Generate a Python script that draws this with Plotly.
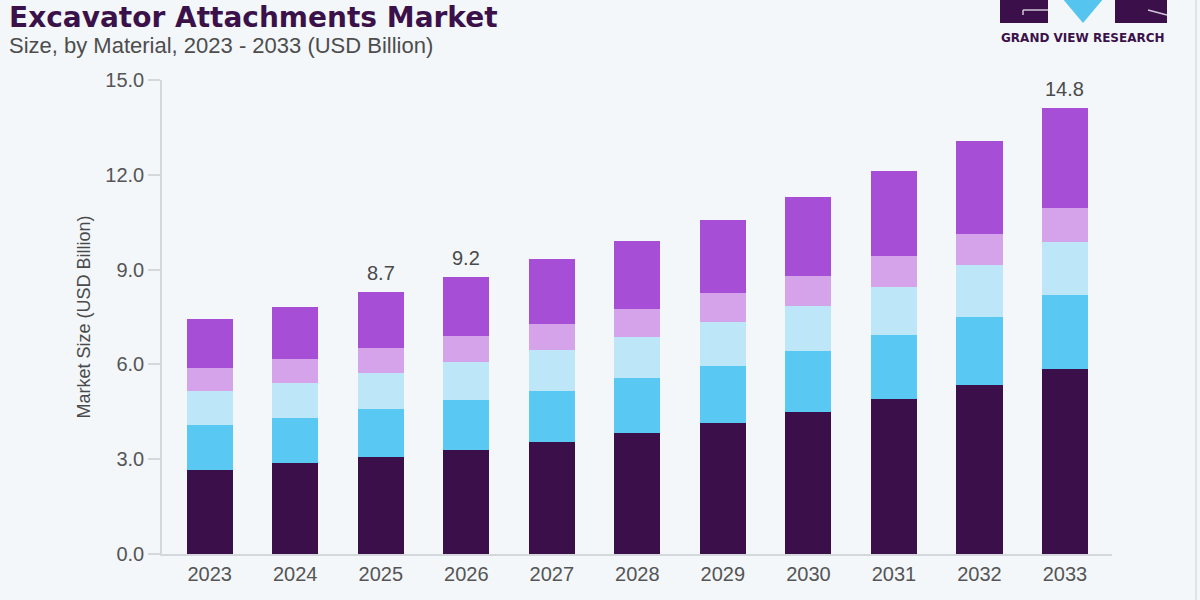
import plotly.graph_objects as go

# ---------------- data ----------------
years = ["2023", "2024", "2025", "2026", "2027", "2028", "2029", "2030", "2031", "2032", "2033"]
seg_dark = [2.66, 2.87, 3.06, 3.29, 3.55, 3.84, 4.14, 4.48, 4.90, 5.35, 5.84]
seg_blue = [1.41, 1.42, 1.52, 1.58, 1.61, 1.72, 1.82, 1.94, 2.03, 2.16, 2.35]
seg_lightblue = [1.09, 1.11, 1.16, 1.21, 1.29, 1.32, 1.39, 1.42, 1.53, 1.64, 1.69]
seg_lavender = [0.74, 0.77, 0.79, 0.81, 0.82, 0.87, 0.90, 0.95, 0.97, 0.98, 1.06]
seg_purple = [1.53, 1.66, 1.75, 1.88, 2.05, 2.16, 2.32, 2.50, 2.70, 2.95, 3.18]
series_names = ["Material 1", "Material 2", "Material 3", "Material 4", "Material 5"]
bar_labels = {"2025": "8.7", "2026": "9.2", "2033": "14.8"}
y_ticks = [0, 3, 6, 9, 12, 15]

title_text = "Excavator Attachments Market"
subtitle_text = "Size, by Material, 2023 - 2033 (USD Billion)"
yaxis_title = "Market Size (USD Billion)"
brand_text = "GRAND VIEW RESEARCH"

# ---------------- styling ----------------
colors = ["#3B0F4A", "#59C8F2", "#BDE7F8", "#D4A3EA", "#A64FD6"]
bg = "#F3F7FA"
W, H = 1200, 600
ML, MR, MT, MB = 162, 88, 80, 46
PW, PH = W - ML - MR, H - MT - MB


def px(x):
    return (x - ML) / PW


def py(y):
    return (H - MB - y) / PH


fig = go.Figure()
series = [seg_dark, seg_blue, seg_lightblue, seg_lavender, seg_purple]
for name, vals, col in zip(series_names, series, colors):
    fig.add_trace(go.Bar(
        x=years, y=vals, name=name, width=0.54,
        marker=dict(color=col, line=dict(width=0)),
    ))

totals = [sum(v) for v in zip(*series)]
annotations = []
for i, (yr, tot) in enumerate(zip(years, totals)):
    if yr in bar_labels:
        annotations.append(dict(
            x=i, y=tot, xref="x", yref="y", text=bar_labels[yr], showarrow=False,
            yanchor="bottom", yshift=6,
            font=dict(family="Liberation Sans, Arial", size=20, color="#4a4a4a"),
        ))

annotations += [
    dict(x=px(8), y=py(0), xref="paper", yref="paper", xanchor="left", yanchor="top",
         text="<b>" + title_text + "</b>", showarrow=False, borderpad=0,
         font=dict(family="DejaVu Sans", size=28, color="#3B1149")),
    dict(x=px(8), y=py(46), xref="paper", yref="paper", xanchor="left", yanchor="middle",
         text=subtitle_text, showarrow=False, borderpad=0,
         font=dict(family="Liberation Sans, Arial", size=22, color="#4d4d4d")),
    dict(x=px(1083), y=py(37.5), xref="paper", yref="paper", xanchor="center", yanchor="middle",
         text="<b>" + brand_text + "</b>", showarrow=False,
         font=dict(family="DejaVu Sans", size=12, color="#3B1149")),
]

dark = "#3B0F4A"
shapes = [
    # logo blocks
    dict(type="rect", xref="paper", yref="paper", x0=px(1000), x1=px(1048), y0=py(23), y1=py(-2),
         fillcolor=dark, line=dict(width=0)),
    dict(type="rect", xref="paper", yref="paper", x0=px(1115), x1=px(1167), y0=py(23), y1=py(-2),
         fillcolor=dark, line=dict(width=0)),
    dict(type="path", xref="paper", yref="paper",
         path=f"M {px(1062)},{py(-2)} L {px(1104)},{py(-2)} L {px(1083)},{py(23)} Z",
         fillcolor="#55C5F0", line=dict(width=0)),
    dict(type="line", xref="paper", yref="paper", x0=px(1023), x1=px(1048), y0=py(10), y1=py(10),
         line=dict(color="#cfc6d8", width=1.5)),
    dict(type="line", xref="paper", yref="paper", x0=px(1023), x1=px(1023), y0=py(10), y1=py(15),
         line=dict(color="#cfc6d8", width=1.5)),
    dict(type="line", xref="paper", yref="paper", x0=px(1148), x1=px(1167), y0=py(10), y1=py(15),
         line=dict(color="#cfc6d8", width=1.5)),
    # faint right border
    dict(type="line", xref="paper", yref="paper", x0=px(1196), x1=px(1196), y0=py(0), y1=py(600),
         line=dict(color="#dfe4e8", width=2)),
]

fig.update_layout(
    width=W, height=H,
    barmode="stack",
    showlegend=False,
    paper_bgcolor=bg, plot_bgcolor=bg,
    margin=dict(l=ML, r=MR, t=MT, b=MB, pad=0),
    font=dict(family="Liberation Sans, Arial", color="#555555"),
    annotations=annotations,
    shapes=shapes,
    xaxis=dict(
        type="category", range=[-0.558, 10.55],
        showline=True, linecolor="#d4d8dc", linewidth=1.5,
        ticks="", showgrid=False, zeroline=False,
        tickfont=dict(size=20, color="#555555"),
        ticklabelstandoff=1,
    ),
    yaxis=dict(
        range=[0, 15], tickvals=y_ticks, tickformat=".1f",
        showline=True, linecolor="#d4d8dc", linewidth=1.5,
        ticks="outside", ticklen=12, tickcolor="#d4d8dc", tickwidth=1.5,
        showgrid=False, zeroline=False,
        tickfont=dict(size=20, color="#555555"),
        title=dict(text=yaxis_title, font=dict(size=18, color="#4a4a4a"), standoff=10),
    ),
)

fig.write_html("out.html")
